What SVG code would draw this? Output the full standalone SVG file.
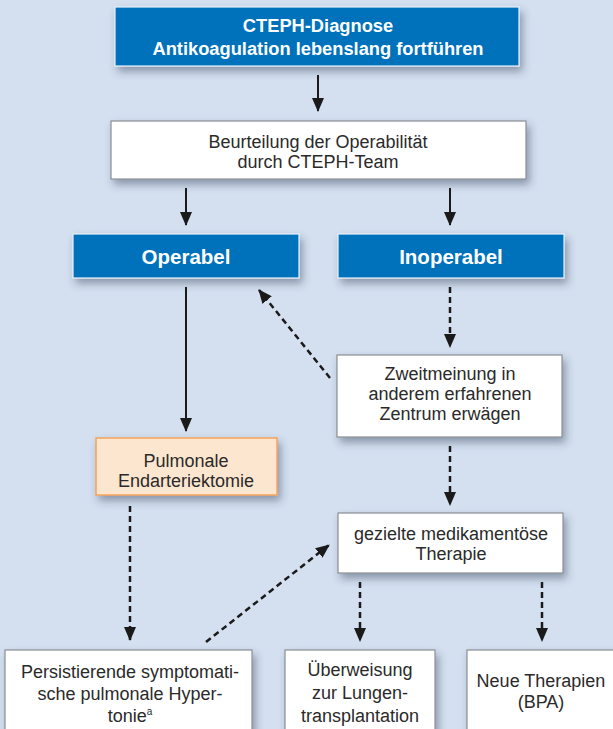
<svg xmlns="http://www.w3.org/2000/svg" width="613" height="729" viewBox="0 0 613 729">
<defs>
<filter id="sh" x="-10%" y="-20%" width="130%" height="160%">
<feDropShadow dx="3" dy="5" stdDeviation="4" flood-color="#2c3b55" flood-opacity="0.45"/>
</filter>
<marker id="ah" viewBox="0 0 14 12" refX="13" refY="6" markerWidth="14" markerHeight="12" markerUnits="userSpaceOnUse" orient="auto">
<path d="M0,0 L14,6 L0,12 Z" fill="#1a1a1a"/>
</marker>
<style>
.blue{fill:#0071bb;stroke:#e8f0fa;stroke-width:1.2;filter:url(#sh)}
.white{fill:#ffffff;stroke:#8a8e94;stroke-width:1.2;filter:url(#sh)}
.peach{fill:#fde6cf;stroke:#f3a35c;stroke-width:1.5;filter:url(#sh)}
.bt{font-family:"Liberation Sans",Arial,sans-serif;font-weight:bold;fill:#ffffff;text-anchor:middle}
.t{font-family:"Liberation Sans",Arial,sans-serif;font-size:18px;fill:#2a2a2a;text-anchor:middle}
.solid{stroke:#1a1a1a;stroke-width:2;fill:none;marker-end:url(#ah)}
.dash{stroke:#1a1a1a;stroke-width:2.5;fill:none;stroke-dasharray:6 4;marker-end:url(#ah)}
</style>
</defs>
<rect x="0" y="0" width="613" height="729" fill="#d4e0f0"/>

<g id="connectors">
<line class="solid" x1="318" y1="75" x2="318" y2="111"/>
<line class="solid" x1="186" y1="188" x2="186" y2="225"/>
<line class="solid" x1="450" y1="188" x2="450" y2="225"/>
<line class="solid" x1="186" y1="287" x2="186" y2="431"/>
<line class="dash" x1="450" y1="287" x2="450" y2="347"/>
<line class="dash" x1="330" y1="378" x2="259" y2="290"/>
<line class="dash" x1="450" y1="446" x2="450" y2="505"/>
<line class="dash" x1="130" y1="506" x2="130" y2="640"/>
<line class="dash" x1="206" y1="642" x2="329" y2="545"/>
<line class="dash" x1="360" y1="582" x2="360" y2="641"/>
<line class="dash" x1="542" y1="582" x2="542" y2="641"/>
</g>

<g id="node-diagnose">
<rect class="blue" x="115" y="7" width="404" height="59"/>
<text class="bt" font-size="18.3" x="318" y="32">CTEPH-Diagnose</text>
<text class="bt" font-size="18.3" x="318" y="55">Antikoagulation lebenslang fortführen</text>
</g>

<g id="node-beurteilung">
<rect class="white" x="111" y="121" width="415" height="58"/>
<text class="t" x="318" y="148">Beurteilung der Operabilität</text>
<text class="t" x="318" y="168">durch CTEPH-Team</text>
</g>

<g id="node-operabel">
<rect class="blue" x="73" y="234" width="226" height="44"/>
<text class="bt" font-size="20.5" x="186" y="264">Operabel</text>
</g>

<g id="node-inoperabel">
<rect class="blue" x="338" y="234" width="226" height="44"/>
<text class="bt" font-size="20.5" x="451" y="264">Inoperabel</text>
</g>

<g id="node-zweitmeinung">
<rect class="white" x="337" y="355" width="225" height="82"/>
<text class="t" x="450" y="380">Zweitmeinung in</text>
<text class="t" x="450" y="400">anderem erfahrenen</text>
<text class="t" x="450" y="420">Zentrum erwägen</text>
</g>

<g id="node-pea">
<rect class="peach" x="96" y="438" width="181" height="57"/>
<text class="t" x="186" y="467">Pulmonale</text>
<text class="t" x="186" y="487">Endarteriektomie</text>
</g>

<g id="node-therapie">
<rect class="white" x="338" y="513" width="225" height="60"/>
<text class="t" x="451" y="540">gezielte medikamentöse</text>
<text class="t" x="451" y="560">Therapie</text>
</g>

<g id="node-persistierend">
<rect class="white" x="5" y="650" width="247" height="90"/>
<text class="t" font-size="18.7" x="130" y="678">Persistierende symptomati-</text>
<text class="t" font-size="18.7" x="130" y="700">sche pulmonale Hyper-</text>
<text class="t" font-size="18.7" x="130" y="722">tonie<tspan font-size="10" dy="-7">a</tspan></text>
</g>

<g id="node-transplantation">
<rect class="white" x="285" y="650" width="150" height="90"/>
<text class="t" font-size="18.7" x="360" y="676">Überweisung</text>
<text class="t" font-size="18.7" x="360" y="699">zur Lungen-</text>
<text class="t" font-size="18.7" x="360" y="722">transplantation</text>
</g>

<g id="node-neue">
<rect class="white" x="467" y="650" width="160" height="90"/>
<text class="t" font-size="18.7" x="541" y="687">Neue Therapien</text>
<text class="t" font-size="18.7" x="541" y="708">(BPA)</text>
</g>
</svg>
